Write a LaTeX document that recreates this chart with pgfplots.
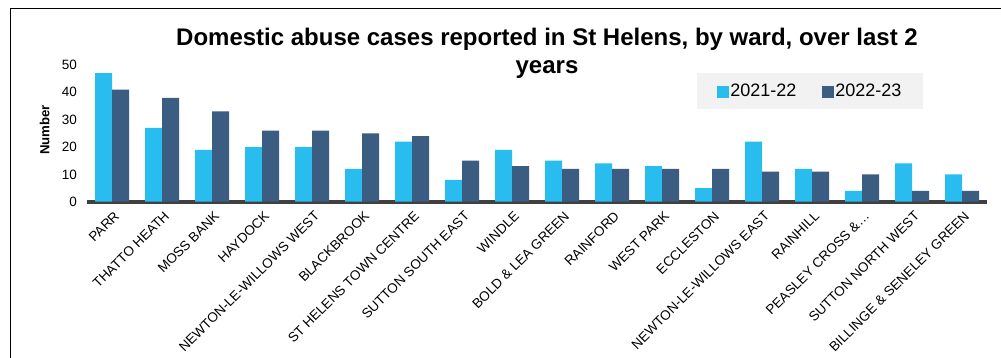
\documentclass[border=0pt]{standalone}
\usepackage{fontspec}
\setmainfont{Liberation Sans}
\usepackage{pgfplots}
\pgfplotsset{compat=1.18}
\definecolor{cLight}{HTML}{29BDEF}
\definecolor{cDark}{HTML}{3B5D82}
\definecolor{cAxis}{HTML}{404040}
\definecolor{cLeg}{HTML}{F2F2F2}
\begin{document}
\begin{tikzpicture}
\useasboundingbox (0,0) rectangle (1001bp,358bp);
\fill[white] (0,0) rectangle (1001bp,358bp);
\draw[line width=1.5bp,black] (10.5bp,-10bp) -- (10.5bp,349.5bp) -- (1010bp,349.5bp);
\node[font=\fontsize{24bp}{28bp}\selectfont\bfseries, align=center, anchor=base] at (547bp,284.7bp)
  {Domestic abuse cases reported in St Helens, by ward, over last 2\\years};
\node[font=\fontsize{13.2bp}{15bp}\selectfont\bfseries, rotate=90, anchor=center] at (44.7bp,228bp) {Number};
\begin{axis}[
  at={(87bp,156.3bp)}, anchor=south west,
  scale only axis, width=900bp, height=136.7bp,
  ybar=0pt, bar width=17bp,
  xmin=-0.5, xmax=17.5, ymin=0, ymax=50,
  axis x line*=bottom, axis y line*=left,
  x axis line style={line width=4bp, cAxis, -},
  y axis line style={draw=none},
  major tick length=0pt,
  ytick={0,10,20,30,40,50},
  xtick={0,...,17},
  xticklabels={PARR,THATTO HEATH,MOSS BANK,HAYDOCK,NEWTON-LE-WILLOWS WEST,BLACKBROOK,ST HELENS TOWN CENTRE,SUTTON SOUTH EAST,WINDLE,BOLD \& LEA GREEN,RAINFORD,WEST PARK,ECCLESTON,NEWTON-LE-WILLOWS EAST,RAINHILL,PEASLEY CROSS \&…,SUTTON NORTH WEST,BILLINGE \& SENELEY GREEN},
  /pgf/number format/assume math mode=true,
  yticklabel style={font=\fontsize{13.5bp}{15bp}\selectfont, xshift=-6.5bp},
  xticklabel style={font=\fontsize{13.5bp}{15bp}\selectfont, rotate=45, anchor=east, inner sep=0pt, xshift=-5bp, yshift=-12bp},
  legend columns=2,
  legend style={at={(0.929,0.942)}, anchor=north east, fill=cLeg, draw=none,
    font=\fontsize{18bp}{20bp}\selectfont, inner xsep=20bp, inner ysep=9.5bp,
    nodes={inner sep=1.5bp},
    /tikz/every even column/.append style={column sep=24bp}},
  legend cell align=left,
]
\addplot[fill=cLight, draw=none,
  legend image code/.code={\fill[cLight] (0bp,-6.5bp) rectangle (12bp,5.5bp);}] coordinates {
(0,47) (1,27) (2,19) (3,20) (4,20) (5,12) (6,22) (7,8) (8,19) (9,15) (10,14) (11,13) (12,5) (13,22) (14,12) (15,4) (16,14) (17,10)};
\addplot[fill=cDark, draw=none,
  legend image code/.code={\fill[cDark] (0bp,-6.5bp) rectangle (12bp,5.5bp);}] coordinates {
(0,41) (1,38) (2,33) (3,26) (4,26) (5,25) (6,24) (7,15) (8,13) (9,12) (10,12) (11,12) (12,12) (13,11) (14,11) (15,10) (16,4) (17,4)};
\legend{2021-22,2022-23}
\end{axis}
\end{tikzpicture}
\end{document}
